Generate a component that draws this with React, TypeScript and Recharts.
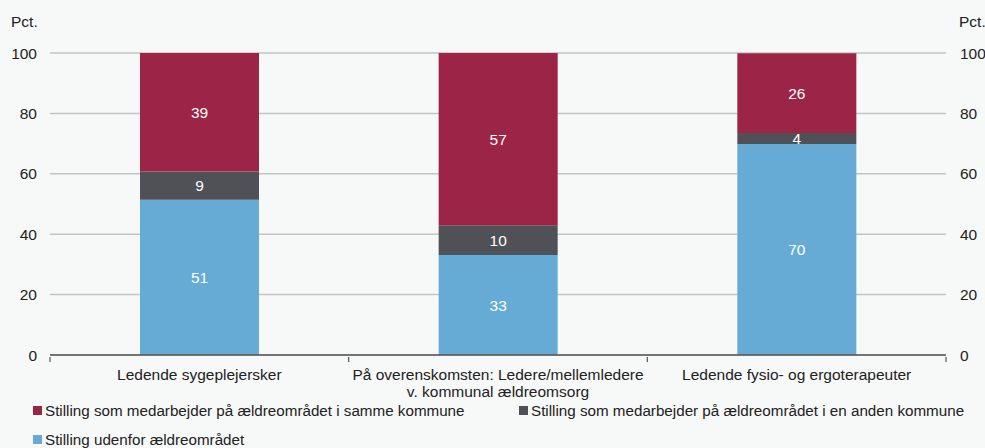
import { Bar, BarChart, CartesianGrid, LabelList, XAxis, YAxis } from "recharts";

const CATEGORIES = [
  "Ledende sygeplejersker",
  "På overenskomsten: Ledere/mellemledere\nv. kommunal ældreomsorg",
  "Ledende fysio- og ergoterapeuter",
];

// stacked bottom → top
const UDENFOR = [51.4, 33.1, 69.9];
const ANDEN_KOMMUNE = [9.4, 9.9, 3.6];
const SAMME_KOMMUNE = [39.2, 57.0, 26.4];

const Y_TICKS = [0, 20, 40, 60, 80, 100];

const SERIES = [
  { key: "samme", name: "Stilling som medarbejder på ældreområdet i samme kommune", color: "#9b2447" },
  { key: "anden", name: "Stilling som medarbejder på ældreområdet i en anden kommune", color: "#505157" },
  { key: "udenfor", name: "Stilling udenfor ældreområdet", color: "#65abd6" },
];

const data = CATEGORIES.map((c, i) => ({
  category: c,
  udenfor: UDENFOR[i],
  anden: ANDEN_KOMMUNE[i],
  samme: SAMME_KOMMUNE[i],
}));

const W = 985;
const H = 448;
const LEFT = 50;
const RIGHT = 39;
const BAND = (W - LEFT - RIGHT) / CATEGORIES.length;

const FONT = '"Liberation Sans", Arial, sans-serif';
const FS = 15.5;
const tickStyle = { fill: "#222", fontSize: FS, fontFamily: FONT };

// category label + small tick marks at the band edges
const CategoryTick = ({ x, y, payload, index }: any) => {
  const lines = String(payload.value).split("\n");
  const edges = index === 0 ? [x - BAND / 2, x + BAND / 2] : [x + BAND / 2];
  return (
    <g>
      {edges.map((ex, i) => (
        <line key={i} x1={ex} x2={ex} y1={y} y2={y + 5} stroke="#555" strokeWidth={1.2} />
      ))}
      <text x={x} y={y} textAnchor="middle" fill="#222" fontSize={FS} fontFamily={FONT}>
        {lines.map((l, i) => (
          <tspan key={i} x={x} dy={i === 0 ? 23 : 17}>
            {l}
          </tspan>
        ))}
      </text>
    </g>
  );
};

const round = (v: any) => Math.round(Number(v));

export default function App() {
  return (
    <div style={{ position: "relative", width: W, height: H, background: "#f7f8f8", fontFamily: FONT, overflow: "hidden" }}>
      <style>{`body{margin:0}`}</style>
      <div style={{ position: "absolute", left: 11, top: 13, fontSize: FS, color: "#222" }}>Pct.</div>
      <div style={{ position: "absolute", left: 959, top: 13, fontSize: FS, color: "#222" }}>Pct.</div>

      <BarChart
        width={W}
        height={H}
        data={data}
        margin={{ top: 53, right: 0, bottom: 53, left: 0 }}
        barCategoryGap={0}
        barGap={0}
      >
        <CartesianGrid vertical={false} stroke="#c4c4c4" strokeWidth={1.5} />
        <XAxis
          dataKey="category"
          height={40}
          axisLine={{ stroke: "#555", strokeWidth: 1.5 }}
          tickLine={false}
          tickSize={0}
          interval={0}
          tick={<CategoryTick />}
        />
        <YAxis
          domain={[0, 100]}
          ticks={Y_TICKS}
          allowDataOverflow
          width={LEFT}
          axisLine={false}
          tickLine={false}
          tickSize={0}
          tickMargin={13}
          tick={tickStyle}
        />
        <YAxis
          yAxisId="right"
          orientation="right"
          domain={[0, 100]}
          ticks={Y_TICKS}
          allowDataOverflow
          width={RIGHT}
          axisLine={false}
          tickLine={false}
          tickSize={0}
          tickMargin={14}
          tick={tickStyle}
        />
        <Bar dataKey="udenfor" stackId="a" fill="#65abd6" barSize={119} isAnimationActive={false}>
          <LabelList dataKey="udenfor" position="center" formatter={round} fill="#fff" fontSize={FS} fontFamily={FONT} />
        </Bar>
        <Bar dataKey="anden" stackId="a" fill="#505157" barSize={119} isAnimationActive={false}>
          <LabelList dataKey="anden" position="center" formatter={round} fill="#fff" fontSize={FS} fontFamily={FONT} />
        </Bar>
        <Bar dataKey="samme" stackId="a" fill="#9b2447" barSize={119} isAnimationActive={false}>
          <LabelList dataKey="samme" position="center" formatter={round} fill="#fff" fontSize={FS} fontFamily={FONT} />
        </Bar>
        {/* invisible series so the right axis has something attached */}
        <Bar dataKey="samme" yAxisId="right" fill="transparent" barSize={0} legendType="none" isAnimationActive={false} />
      </BarChart>

      <div
        style={{
          position: "absolute",
          left: 33,
          top: 401,
          display: "grid",
          gridTemplateColumns: "486px 460px",
          rowGap: 11,
          fontSize: 15.2,
          color: "#222",
        }}
      >
        {SERIES.map((s) => (
          <div key={s.key} style={{ display: "flex", alignItems: "center", height: 18, whiteSpace: "nowrap" }}>
            <span style={{ width: 9, height: 9, background: s.color, marginRight: 3, display: "inline-block" }} />
            {s.name}
          </div>
        ))}
      </div>
    </div>
  );
}
